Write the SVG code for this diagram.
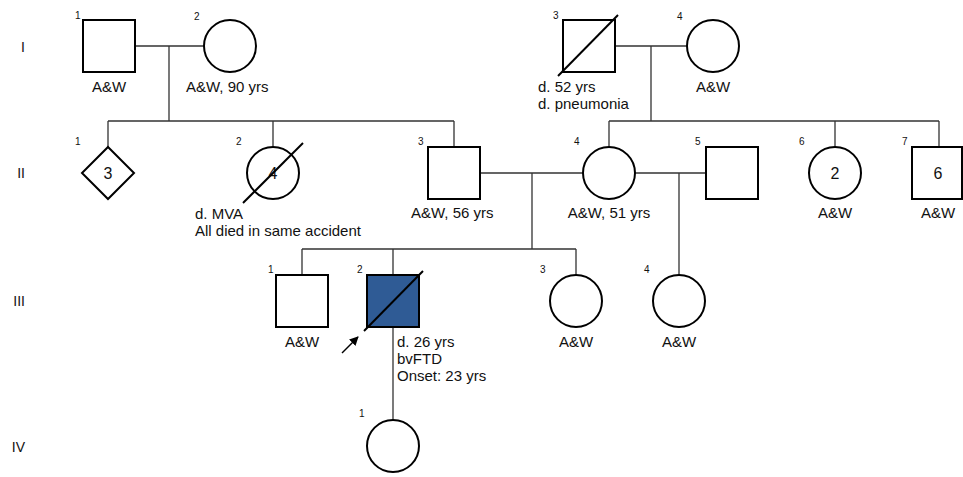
<svg xmlns="http://www.w3.org/2000/svg" width="963" height="477" viewBox="0 0 963 477">
<style>
.shape{fill:#fff;stroke:#000;stroke-width:2}
.aff{fill:#2f5b95;stroke:#000;stroke-width:2}
.slash{stroke:#000;stroke-width:2;fill:none}
.line{stroke:#333;stroke-width:1.3;fill:none}
text{font-family:"Liberation Sans",Arial,sans-serif;fill:#111}
.lbl{font-size:15px}
.num{font-size:10px}
.gen{font-size:14px;text-anchor:end}
.mid{text-anchor:middle}
.in{font-size:16px;text-anchor:middle}
</style>
<defs>
<marker id="ah" viewBox="0 0 10 10" refX="9" refY="5" markerWidth="9" markerHeight="9" markerUnits="userSpaceOnUse" orient="auto">
<path d="M0,0 L10,5 L0,10 z" fill="#000"/>
</marker>
</defs>
<rect width="963" height="477" fill="#fff"/>
<g id="generations">
<text class="gen" x="25" y="52">I</text>
<text class="gen" x="25" y="178">II</text>
<text class="gen" x="25" y="306">III</text>
<text class="gen" x="25" y="452">IV</text>
</g>
<g id="connectors">
<path class="line" d="M135,46 H204 M169,46 V121 M108,121 H454 M108,121 V147 M273,121 V147 M454,121 V147"/>
<path class="line" d="M614,46 H687 M651,46 V121 M609,121 H939 M609,121 V147 M835,121 V147 M939,121 V147"/>
<path class="line" d="M480,173 H583 M532,173 V249 M302,249 H576 M302,249 V275 M393,249 V275 M576,249 V275"/>
<path class="line" d="M635,173 H706 M679,173 V275"/>
<path class="line" d="M393,327 V420"/>
</g>
<g id="I-1">
<rect class="shape" x="83" y="20" width="52" height="52"/>
<text class="num" x="75" y="19">1</text>
<text class="lbl mid" x="109" y="92">A&amp;W</text>
</g>
<g id="I-2">
<circle class="shape" cx="230" cy="46" r="26"/>
<text class="num" x="194" y="20">2</text>
<text class="lbl" x="186" y="92">A&amp;W, 90 yrs</text>
</g>
<g id="I-3">
<rect class="shape" x="563" y="20" width="52" height="52"/>
<line class="slash" x1="558" y1="76" x2="618" y2="15"/>
<text class="num" x="553" y="19">3</text>
<text class="lbl" x="538" y="92">d. 52 yrs</text>
<text class="lbl" x="538" y="109">d. pneumonia</text>
</g>
<g id="I-4">
<circle class="shape" cx="713" cy="46" r="26"/>
<text class="num" x="677" y="20">4</text>
<text class="lbl mid" x="713" y="92">A&amp;W</text>
</g>
<g id="II-1">
<polygon class="shape" points="108,147 134,173 108,199 82,173"/>
<text class="in" x="108" y="179">3</text>
<text class="num" x="75" y="145">1</text>
</g>
<g id="II-2">
<circle class="shape" cx="273" cy="173" r="26"/>
<text class="in" x="273" y="179">4</text>
<line class="slash" x1="243" y1="203" x2="303" y2="143"/>
<text class="num" x="236" y="145">2</text>
<text class="lbl" x="195" y="219">d. MVA</text>
<text class="lbl" x="195" y="236">All died in same accident</text>
</g>
<g id="II-3">
<rect class="shape" x="428" y="147" width="52" height="52"/>
<text class="num" x="418" y="145">3</text>
<text class="lbl" x="411" y="218">A&amp;W, 56 yrs</text>
</g>
<g id="II-4">
<circle class="shape" cx="609" cy="173" r="26"/>
<text class="num" x="574" y="145">4</text>
<text class="lbl mid" x="609" y="218">A&amp;W, 51 yrs</text>
</g>
<g id="II-5">
<rect class="shape" x="706" y="147" width="52" height="52"/>
<text class="num" x="695" y="145">5</text>
</g>
<g id="II-6">
<circle class="shape" cx="835" cy="173" r="26"/>
<text class="in" x="835" y="179">2</text>
<text class="num" x="799" y="145">6</text>
<text class="lbl mid" x="835" y="218">A&amp;W</text>
</g>
<g id="II-7">
<rect class="shape" x="912" y="147" width="50" height="52"/>
<text class="in" x="938" y="179">6</text>
<text class="num" x="902" y="145">7</text>
<text class="lbl mid" x="938" y="218">A&amp;W</text>
</g>
<g id="III-1">
<rect class="shape" x="276" y="275" width="52" height="52"/>
<text class="num" x="268" y="273">1</text>
<text class="lbl mid" x="302" y="347">A&amp;W</text>
</g>
<g id="III-2">
<rect class="aff" x="367" y="275" width="52" height="52"/>
<line class="slash" x1="364" y1="331" x2="423" y2="271"/>
<text class="num" x="357" y="273">2</text>
<line x1="342" y1="353" x2="358" y2="337" stroke="#000" stroke-width="1.5" marker-end="url(#ah)"/>
<text class="lbl" x="397" y="347">d. 26 yrs</text>
<text class="lbl" x="397" y="364">bvFTD</text>
<text class="lbl" x="397" y="381">Onset: 23 yrs</text>
</g>
<g id="III-3">
<circle class="shape" cx="576" cy="301" r="26"/>
<text class="num" x="540" y="273">3</text>
<text class="lbl mid" x="576" y="347">A&amp;W</text>
</g>
<g id="III-4">
<circle class="shape" cx="679" cy="301" r="26"/>
<text class="num" x="644" y="273">4</text>
<text class="lbl mid" x="679" y="347">A&amp;W</text>
</g>
<g id="IV-1">
<circle class="shape" cx="393" cy="446" r="26"/>
<text class="num" x="359" y="417">1</text>
</g>
</svg>
